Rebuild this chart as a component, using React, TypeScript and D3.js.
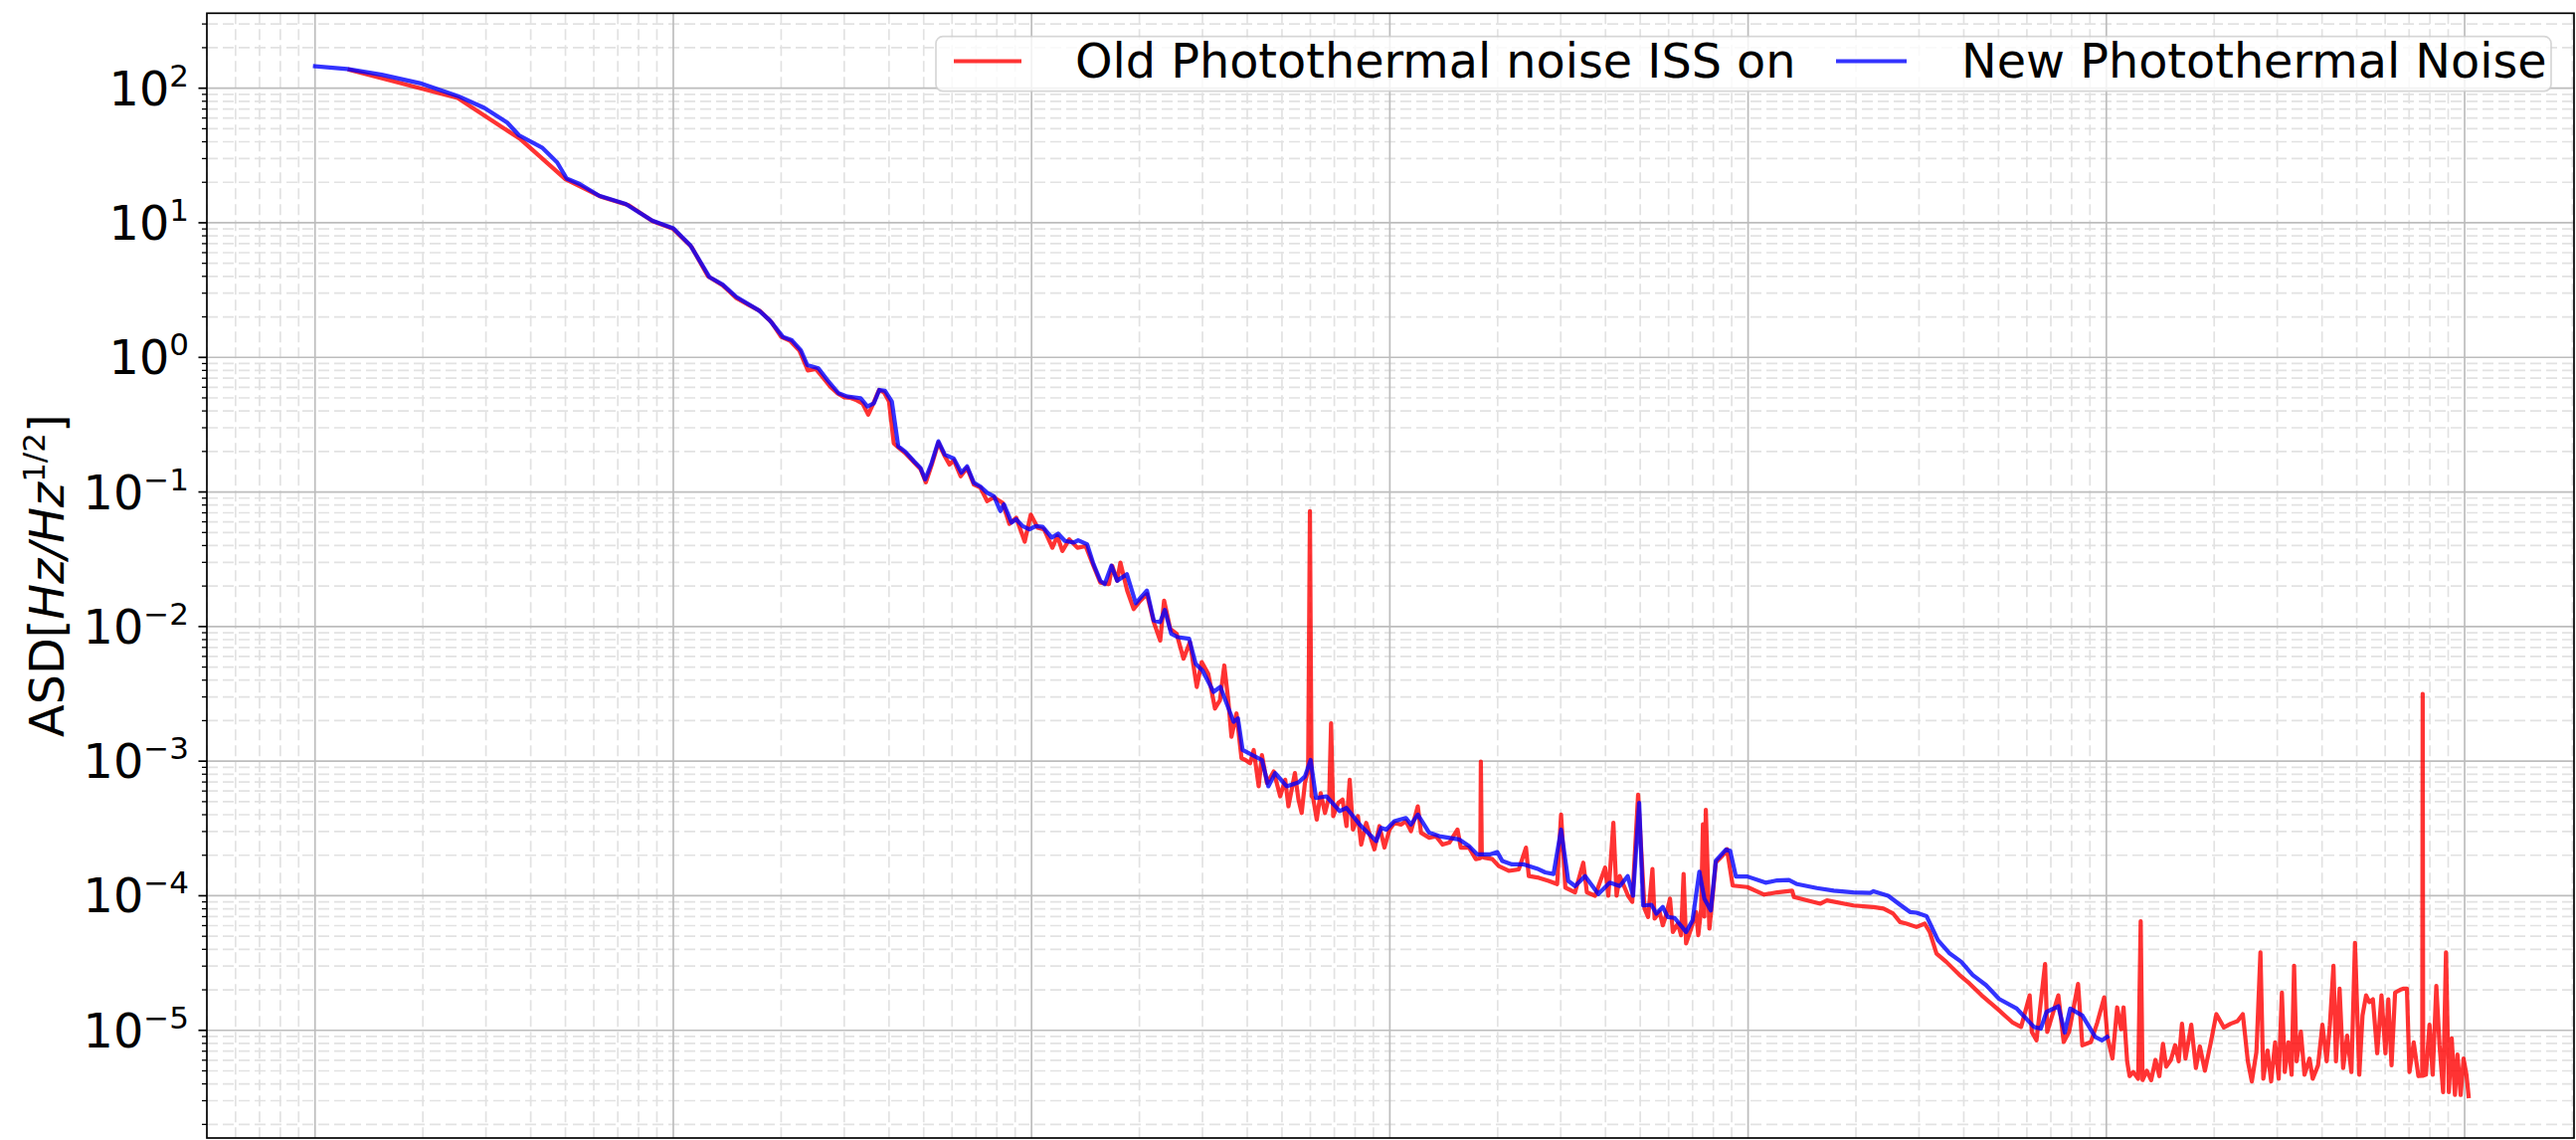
import * as d3 from "d3";
import React from "react";

// new photothermal noise (blue)
const newFreq = [
  0.1, 0.123, 0.1535, 0.196, 0.251, 0.297, 0.344, 0.371, 0.43, 0.474, 0.504, 0.548, 0.621, 0.736, 0.873,
  1.0, 1.117, 1.262, 1.374, 1.5, 1.73, 1.858, 2.023, 2.143, 2.27, 2.366, 2.541, 2.692, 2.891, 3.062,
  3.334, 3.483, 3.631, 3.758, 3.899, 4.074, 4.246, 4.436, 4.699, 4.898, 5.047, 5.26, 5.495, 5.728, 6.067,
  6.368, 6.607, 6.902, 7.194, 7.516, 7.852, 8.185, 8.375, 8.79, 9.057, 9.441, 9.863, 10.28, 10.74, 11.38,
  11.86, 12.39, 13.12, 13.49, 14.29, 14.89, 15.56, 16.0, 16.71, 17.34, 18.45, 19.54, 20.99, 21.93, 22.86,
  23.55, 24.55, 25.64, 27.54, 28.71, 29.99, 32.21, 33.65, 36.64, 37.67, 38.82, 43.95, 45.81, 47.86, 51.52,
  55.59, 57.94, 60.12, 62.23, 66.53, 72.44, 75.68, 82.41, 91.62, 94.62, 97.72, 103.0, 110.9, 114.6, 119.7,
  128.8, 137.4, 156.0, 166.3, 175.4, 191.0, 199.5, 206.1, 219.3, 236.6, 257.6, 271.6, 286.4, 300.6, 314.8,
  328.9, 350.8, 381.9, 411.1, 438.5, 461.3, 477.5, 496.6, 509.3, 537.0, 554.6, 578.1, 597.0, 623.7, 671.4,
  699.8, 731.1, 755.1, 787.0, 812.8, 867.0, 891.3, 924.7, 995.4, 1119, 1205, 1300, 1371, 1556, 1734,
  1968, 2193, 2239, 2460, 2655, 2831, 2951, 3148, 3388, 3656, 3936, 4236, 4613, 5023, 5623,
  6281, 6561, 6808, 7345, 7656, 7925, 8570, 9311, 9727, 10050,
];
const newAsd = [
  145.5, 139, 126, 109, 87.3, 71.4, 55.5, 44.7, 36.2, 28.1, 21.3, 19.4, 15.9, 13.8, 10.4,
  9.1, 6.78, 3.95, 3.47, 2.81, 2.24, 1.89, 1.42, 1.34, 1.13, 0.877, 0.83, 0.679, 0.542, 0.512,
  0.498, 0.432, 0.457, 0.573, 0.564, 0.47, 0.218, 0.2, 0.169, 0.151, 0.124, 0.164, 0.238, 0.189, 0.177,
  0.139, 0.155, 0.117, 0.11, 0.0986, 0.0931, 0.0721, 0.0809, 0.0592, 0.0627, 0.0558, 0.0528, 0.0558, 0.055, 0.0458,
  0.049, 0.0433, 0.0421, 0.0438, 0.0409, 0.0291, 0.0219, 0.0207, 0.0283, 0.0219, 0.0245, 0.0149, 0.0185, 0.0111, 0.0108,
  0.0133, 0.00883, 0.00834, 0.00811, 0.0053, 0.00472, 0.00327, 0.00356, 0.00196, 0.00208, 0.00121, 0.00102, 0.00065, 0.000815, 0.00065,
  0.000695, 0.000769, 0.00102, 0.000532, 0.000548, 0.000425, 0.000449, 0.000338, 0.000255, 0.00032, 0.00031, 0.000358, 0.000378, 0.000338, 0.000401,
  0.000294, 0.000277, 0.000262, 0.000234, 0.000203, 0.000203, 0.000211, 0.000181, 0.000171, 0.000171, 0.000159, 0.000149, 0.000145, 0.00031, 0.000129,
  0.000118, 0.00014, 0.000103, 0.000125, 0.000118, 0.00014, 0.0001, 0.000489, 8.47e-5, 8.57e-5, 7.36e-5, 8.24e-5, 6.95e-5, 6.84e-5, 5.38e-5,
  6.56e-5, 1.51e-4, 9.51e-5, 7.78e-5, 1.82e-4, 2.2e-4, 2.16e-4, 1.39e-4, 1.39e-4, 1.25e-4, 1.3e-4, 1.31e-4, 1.22e-4, 1.14e-4, 1.09e-4,
  1.06e-4, 1.05e-4, 1.08e-4, 1.0e-4, 8.57e-5, 7.57e-5, 7.48e-5, 7.06e-5, 4.68e-5, 3.72e-5, 3.23e-5, 2.58e-5, 2.17e-5, 1.71e-5, 1.45e-5,
  1.06e-5, 1.03e-5, 1.37e-5, 1.51e-5, 9.62e-6, 1.45e-5, 1.29e-5, 8.93e-6, 8.43e-6, 8.93e-6,
];

// old photothermal noise, ISS on (red)
const oldFreq = [
  0.125, 0.25, 0.375, 0.5, 0.625, 0.75, 0.875, 1.0, 1.125, 1.25, 1.375, 1.5, 1.625, 1.75, 1.875,
  2.0, 2.125, 2.25, 2.375, 2.5, 2.625, 2.75, 2.875, 3.0, 3.125, 3.25, 3.375, 3.5, 3.625, 3.75,
  3.875, 4.0, 4.125, 4.25, 4.436, 4.699, 4.898, 5.07, 5.26, 5.495, 5.728, 5.9, 6.067, 6.34, 6.607,
  6.902, 7.194, 7.516, 7.852, 8.3, 8.67, 9.06, 9.57, 9.95, 10.4, 10.84, 11.43, 11.8, 12.19, 12.74,
  13.43, 14.16, 14.76, 15.56, 16.44, 16.79, 17.34, 17.7, 18.49, 19.28, 20.14, 20.99, 21.93, 22.86, 23.44,
  24.38, 25.41, 26.55, 27.67, 28.91, 29.85, 31.12, 32.51, 33.57, 34.51, 35.4, 36.14, 37.33, 38.55, 39.54,
  40.74, 41.69, 43.05, 43.95, 45.39, 47.42, 49.43, 51.05, 52.12, 54.33, 55.59, 56.75, 57.94, 59.16, 59.84,
  60.5, 61.09, 62.52, 64.12, 65.92, 67.76, 68.55, 69.5, 71.78, 73.79, 75.68, 77.27, 78.89, 81.47, 83.18,
  85.9, 88.72, 90.57, 93.54, 96.61, 99.77, 103.0, 107.4, 110.9, 114.6, 119.7, 122.2, 128.8, 134.6, 140.3,
  146.6, 154.5, 157.8, 166.3, 173.8, 178.9, 179.5, 180.6, 183.2, 193.2, 201.4, 214.8, 229.1, 239.9, 244.3,
  260.6, 277.3, 293.1, 300.6, 309.0, 328.9, 346.7, 354.8, 374.1, 399.0, 407.4, 420.7, 429.5, 438.5, 462.4,
  475.0, 493.2, 514.0, 526.0, 540.8, 548.3, 566.2, 578.1, 590.2, 605.3, 616.6, 636.8, 650.1, 660.7, 671.4,
  693.4, 716.1, 726.1, 739.6, 748.2, 755.0, 762.1, 779.8, 798.0, 812.8, 849.1, 873.0, 905.7, 995.4, 1109,
  1205, 1327, 1343, 1592, 1660, 1968, 2239, 2388, 2541, 2655, 2767, 2951, 3112, 3214, 3357,
  3573, 3890, 4150, 4487, 4955, 5458, 5781, 6109, 6194, 6383, 6745, 6839, 7345, 7603, 7870,
  8337, 8570, 9057, 9441, 9863,
  10070, 10400, 10720, 10990, 11170, 11430, 11610, 11890, 12270, 12470,
  12620, 12970, 13340, 13710, 14060, 14390, 14690, 15140, 15560, 15920,
  16260, 16630, 17260, 17780, 18240, 18840, 19500, 20280, 21280, 22230,
  23230, 24040, 24830, 25470, 26240, 26920, 27420, 28180, 28840, 29580,
  30270, 30900, 31480, 32210, 32890, 33420, 33960, 34910, 35730, 36900,
  37670, 38990, 40090, 41210, 42070, 43050, 43750, 44770, 45810, 46990,
  48310, 49430, 50820, 51880, 53090, 54200, 55460, 57020, 58610, 60120,
  61240, 62520, 63970, 66070, 67610, 69020, 70150, 72110, 74300, 76150,
  76380, 76620, 77980, 79800, 81470, 83370, 85110, 87100, 88720, 90360,
  92040, 93970, 95500, 97500, 99310, 101200, 102600,
];
const oldAsd = [
  137, 84.7, 41.7, 21.1, 15.7, 13.5, 10.3, 9.0, 6.6, 4.0, 3.42, 2.76, 2.45, 2.2, 1.84,
  1.42, 1.32, 1.12, 0.8, 0.82, 0.7, 0.6, 0.54, 0.505, 0.5, 0.48, 0.455, 0.375, 0.46, 0.57,
  0.55, 0.47, 0.23, 0.214, 0.195, 0.166, 0.148, 0.118, 0.158, 0.232, 0.184, 0.16, 0.172, 0.131, 0.151,
  0.1135, 0.108, 0.0855, 0.0912, 0.083, 0.0579, 0.0643, 0.0427, 0.0679, 0.0542, 0.0527, 0.0385, 0.047, 0.0364, 0.0445,
  0.0385, 0.0396, 0.0299, 0.0212, 0.0207, 0.0283, 0.0219, 0.0299, 0.0185, 0.0135, 0.0156, 0.0174, 0.0108, 0.00787, 0.0156,
  0.00962, 0.00883, 0.00577, 0.00766, 0.00356, 0.00545, 0.00447, 0.00246, 0.00284, 0.00514, 0.00284, 0.00152, 0.00226, 0.00105, 0.00102,
  0.000966, 0.00121, 0.00065, 0.00111, 0.000687, 0.000838, 0.000548, 0.000728, 0.000462, 0.000815, 0.000518, 0.000412, 0.000687, 0.000863, 0.0721,
  0.00055, 0.000532, 0.000368, 0.000579, 0.000412, 0.000548, 0.00191, 0.00039, 0.000489, 0.000518, 0.000329, 0.000728, 0.00031, 0.00039, 0.00024,
  0.000348, 0.000262, 0.000221, 0.000329, 0.000228, 0.00031, 0.000348, 0.000338, 0.000358, 0.000302, 0.000462, 0.000294, 0.00027, 0.000277, 0.00024,
  0.000248, 0.00031, 0.000228, 0.000228, 0.000187, 0.00019, 0.000993, 0.000195, 0.000192, 0.000187, 0.000166, 0.000153, 0.000157, 0.000228, 0.00014,
  0.000136, 0.000129, 0.000122, 0.000401, 0.000115, 0.000106, 0.000176, 0.000106, 0.0001, 0.000162, 0.0001, 0.000348, 0.0001, 0.00014, 0.0001,
  9.0e-5, 0.000564, 8.02e-5, 6.95e-5, 0.000158, 6.76e-5, 7.57e-5, 6.03e-5, 7.14e-5, 9.51e-5, 5.38e-5, 6.21e-5, 5.09e-5, 0.000145, 4.42e-5,
  5.7e-5, 7.57e-5, 5.09e-5, 8.02e-5, 0.00034, 7.0e-5, 0.000435, 5.7e-5, 0.000106, 0.000177, 0.000199, 0.000222, 0.000119, 0.000116, 0.000102,
  0.000106, 0.000109, 9.77e-5, 8.73e-5, 9.23e-5, 8.47e-5, 8.24e-5, 8.02e-5, 7.36e-5, 6.38e-5, 6.21e-5, 5.86e-5, 6.21e-5, 5.38e-5, 3.72e-5,
  3.23e-5, 2.58e-5, 2.23e-5, 1.82e-5, 1.45e-5, 1.15e-5, 1.06e-5, 1.82e-5, 9.73e-6, 8.43e-6, 3.11e-5, 9.73e-6, 1.82e-5, 8.2e-6, 9.73e-6,
  2.21e-5, 7.74e-6, 8.2e-6, 1.15e-5, 1.76e-5,
  8.91e-6, 6.17e-6, 1.48e-5, 1.02e-5, 1.48e-5, 5.89e-6, 4.57e-6, 4.9e-6, 4.37e-6, 6.46e-5,
  4.27e-6, 5.01e-6, 4.27e-6, 6.03e-6, 4.57e-6, 7.94e-6, 5.37e-6, 6.03e-6, 7.76e-6, 5.89e-6,
  1.12e-5, 6.17e-6, 1.1e-5, 5.25e-6, 7.59e-6, 5.01e-6, 7.76e-6, 1.32e-5, 1.05e-5, 1.12e-5,
  1.17e-5, 1.32e-5, 5.89e-6, 4.17e-6, 6.92e-6, 3.8e-5, 4.37e-6, 7.08e-6, 4.17e-6, 8.13e-6,
  4.37e-6, 1.91e-5, 4.9e-6, 8.13e-6, 4.68e-6, 3.02e-5, 5.89e-6, 9.77e-6, 4.68e-6, 6.17e-6,
  4.37e-6, 5.5e-6, 1.1e-5, 5.89e-6, 1.1e-5, 3.02e-5, 5.89e-6, 2.04e-5, 5.25e-6, 9.12e-6,
  4.9e-6, 4.47e-5, 4.68e-6, 1.29e-5, 1.82e-5, 1.62e-5, 1.7e-5, 6.76e-6, 1.82e-5, 6.76e-6,
  1.7e-5, 5.5e-6, 1.91e-5, 2.0e-5, 2.04e-5, 2.04e-5, 4.9e-6, 8.13e-6, 4.57e-6, 4.6e-6,
  3.16e-3, 4.6e-6, 4.68e-6, 1.1e-5, 4.68e-6, 2.14e-5, 7.76e-6, 3.47e-6, 3.8e-5, 3.47e-6,
  8.71e-6, 3.31e-6, 6.61e-6, 3.31e-6, 6.17e-6, 4.68e-6, 3.24e-6,
];

const yTicks = [1e2, 1e1, 1e0, 1e-1, 1e-2, 1e-3, 1e-4, 1e-5];
const yTickExps = ["2", "1", "0", "\u22121", "\u22122", "\u22123", "\u22124", "\u22125"];
const legendLabels = ["Old Photothermal noise ISS on", "New Photothermal Noise"];

const W = 2590;
const H = 1146;
const FONT = "DejaVu Sans";

export const AsdChart: React.FC = () => {
  const ref = React.useRef<SVGSVGElement | null>(null);

  React.useEffect(() => {
    const svg = d3.select(ref.current);
    svg.selectAll("*").remove();

    const left = 208, right = 2588, top = 13.3, bottom = 1144;
    const x = d3.scaleLog().domain([0.0499, 2.02e5]).range([left, right]);
    const y = d3.scaleLog().domain([1.585e-6, 360.6]).range([bottom, top]);

    svg.append("rect").attr("width", W).attr("height", H).attr("fill", "white");

    svg.append("clipPath").attr("id", "plot-clip")
      .append("rect").attr("x", left).attr("y", top).attr("width", right - left).attr("height", bottom - top);

    // grid
    const grid = svg.append("g");
    const xMinor: number[] = [], xMajor: number[] = [];
    for (let e = -2; e <= 5; e++) {
      for (let m = 1; m <= 9; m++) {
        const v = m * Math.pow(10, e);
        if (v < 0.0499 || v > 2.02e5) continue;
        (m === 1 ? xMajor : xMinor).push(v);
      }
    }
    const yMinor: number[] = [];
    for (let e = -6; e <= 2; e++) {
      for (let m = 2; m <= 9; m++) {
        const v = m * Math.pow(10, e);
        if (v > 1.585e-6 && v < 360.6) yMinor.push(v);
      }
    }
    grid.selectAll(".xm").data(xMinor).join("line")
      .attr("x1", (d) => x(d)).attr("x2", (d) => x(d)).attr("y1", top).attr("y2", bottom)
      .attr("stroke", "#e2e2e2").attr("stroke-width", 1.7).attr("stroke-dasharray", "11,5");
    grid.selectAll(".ym").data(yMinor).join("line")
      .attr("y1", (d) => y(d)).attr("y2", (d) => y(d)).attr("x1", left).attr("x2", right)
      .attr("stroke", "#e2e2e2").attr("stroke-width", 1.7).attr("stroke-dasharray", "11,5");
    grid.selectAll(".xM").data(xMajor).join("line")
      .attr("x1", (d) => x(d)).attr("x2", (d) => x(d)).attr("y1", top).attr("y2", bottom)
      .attr("stroke", "#bdbdbd").attr("stroke-width", 1.7);
    grid.selectAll(".yM").data(yTicks).join("line")
      .attr("y1", (d) => y(d)).attr("y2", (d) => y(d)).attr("x1", left).attr("x2", right)
      .attr("stroke", "#bdbdbd").attr("stroke-width", 1.7);

    // lines
    const line = d3.line<[number, number]>().x((d) => x(d[0])).y((d) => y(d[1]));
    const oldData = oldFreq.map((f, i) => [f, oldAsd[i]] as [number, number]);
    const newData = newFreq.map((f, i) => [f, newAsd[i]] as [number, number]);
    const lines = svg.append("g").attr("clip-path", "url(#plot-clip)");
    lines.append("path").attr("d", line(oldData)).attr("fill", "none")
      .attr("stroke", "red").attr("stroke-opacity", 0.8).attr("stroke-width", 4.2)
      .attr("stroke-linejoin", "round").attr("stroke-linecap", "square");
    lines.append("path").attr("d", line(newData)).attr("fill", "none")
      .attr("stroke", "blue").attr("stroke-opacity", 0.8).attr("stroke-width", 4.2)
      .attr("stroke-linejoin", "round").attr("stroke-linecap", "square");

    // y ticks
    const ticks = svg.append("g");
    ticks.selectAll(".tM").data(yTicks).join("line")
      .attr("x1", left - 8.5).attr("x2", left).attr("y1", (d) => y(d)).attr("y2", (d) => y(d))
      .attr("stroke", "black").attr("stroke-width", 1.7);
    ticks.selectAll(".tm").data(yMinor).join("line")
      .attr("x1", left - 5).attr("x2", left).attr("y1", (d) => y(d)).attr("y2", (d) => y(d))
      .attr("stroke", "black").attr("stroke-width", 1.3);
    const labels = ticks.selectAll(".tl").data(yTicks).join("text")
      .attr("x", 190).attr("y", (d) => y(d) + 17)
      .attr("text-anchor", "end").attr("font-family", FONT).attr("font-size", 47.7).attr("fill", "black");
    labels.append("tspan").text("10");
    labels.append("tspan").attr("dy", -19).attr("font-size", 31).text((d, i) => yTickExps[i]);

    // spines
    svg.append("rect").attr("x", left).attr("y", top).attr("width", right - left).attr("height", bottom - top)
      .attr("fill", "none").attr("stroke", "black").attr("stroke-width", 1.7);

    // y label
    const yl = svg.append("text")
      .attr("transform", `translate(64, ${(top + bottom) / 2}) rotate(-90)`)
      .attr("text-anchor", "middle").attr("font-family", FONT).attr("font-size", 47.7).attr("fill", "black");
    yl.append("tspan").text("ASD[");
    yl.append("tspan").attr("font-style", "italic").text("Hz/Hz");
    yl.append("tspan").attr("dy", -19).attr("font-size", 31).text("1/2");
    yl.append("tspan").attr("dy", 19).text("]");

    // legend
    const lg = svg.append("g");
    lg.append("rect").attr("x", 941).attr("y", 36.7).attr("width", 1624).attr("height", 55).attr("rx", 7)
      .attr("fill", "white").attr("fill-opacity", 0.8).attr("stroke", "#cccccc").attr("stroke-opacity", 0.8).attr("stroke-width", 1.7);
    const entries = [
      { label: legendLabels[0], color: "red", x0: 959, x1: 1027, tx: 1081 },
      { label: legendLabels[1], color: "blue", x0: 1846, x1: 1917, tx: 1972 },
    ];
    entries.forEach((e) => {
      lg.append("line").attr("x1", e.x0).attr("x2", e.x1).attr("y1", 61.5).attr("y2", 61.5)
        .attr("stroke", e.color).attr("stroke-opacity", 0.8).attr("stroke-width", 4.2);
      lg.append("text").attr("x", e.tx).attr("y", 78.3).attr("font-family", FONT).attr("font-size", 47.7)
        .attr("fill", "black").text(e.label);
    });
  }, []);

  return <svg ref={ref} width={W} height={H} style={{ display: "block" }} />;
};

export default function App() {
  return (
    <div style={{ position: "absolute", left: 0, top: 0 }}>
      <AsdChart />
    </div>
  );
}
